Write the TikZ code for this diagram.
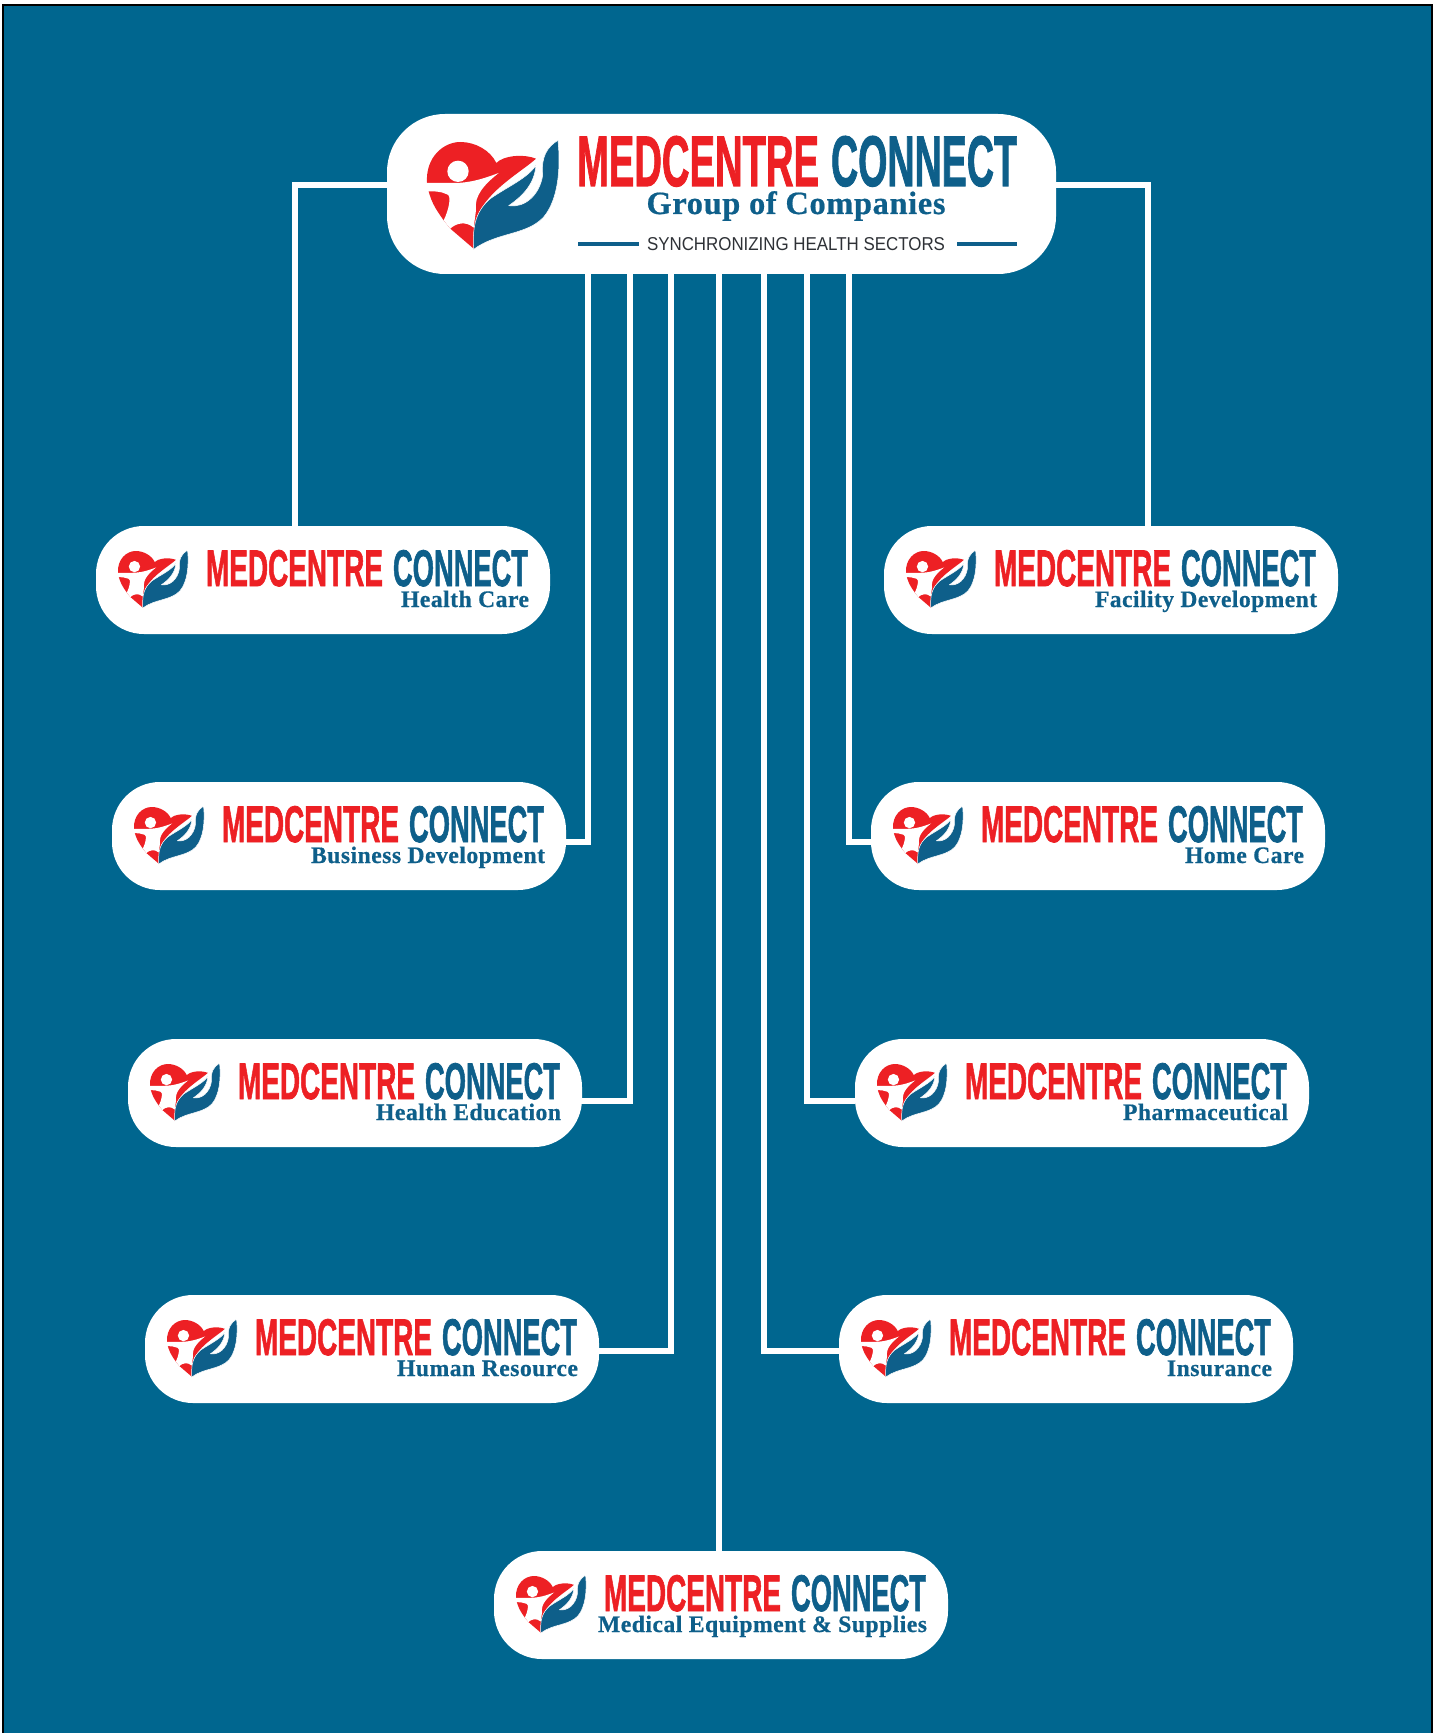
\documentclass[tikz,border=0pt]{standalone}
\usepackage{fontspec}
\setmainfont{Liberation Sans}
\newfontfamily\subfont[LetterSpace=2,BoldFeatures={FakeBold=0.6}]{Liberation Serif}
\newfontfamily\wordfont[BoldFeatures={FakeBold=1.6}]{Liberation Sans}
\newlength\pxu \setlength\pxu{0.5pt}
\definecolor{bgblue}{HTML}{00668F}
\definecolor{mcred}{HTML}{ED2024}
\definecolor{mcblue}{HTML}{0E5F8A}
\definecolor{tagrey}{HTML}{2E3136}
\tikzset{
  unitbox/.style={fill=white,rounded corners=24pt,minimum width=454\pxu,minimum height=108\pxu,inner sep=0pt},
  mainbox/.style={fill=white,rounded corners=29pt,minimum width=669\pxu,minimum height=160\pxu,inner sep=0pt},
  wordnode/.style={inner sep=0pt,outer sep=0pt,anchor=base west},
  subnode/.style={inner sep=0pt,outer sep=0pt,anchor=base east,text=mcblue},
  link/.style={draw=white,line width=2.7pt,line join=miter},
}
\newcommand{\mclogo}[3]{%
  \begin{scope}[shift={(#1,#2)},scale=#3,shift={(-20,-65)}]
    \fill[mcred] (20,188) .. controls (15,110) and (70,65) .. (120,65)
      .. controls (165,65) and (210,90) .. (228,128)
      .. controls (250,105) and (310,100) .. (347,115)
      .. controls (310,150) and (200,210) .. (170,290)
      -- (160,385) -- (90,325) -- (70,300) .. controls (45,265) and (28,240) .. (20,188) -- cycle;
    \fill[white] (14,188) -- (100,188) .. controls (150,188) and (190,175) .. (235,158)
      .. controls (195,190) and (160,225) .. (167,270)
      -- (160,322) .. controls (135,300) and (105,310) .. (90,325)
      -- (70,300) .. controls (85,270) and (95,225) .. (80,222)
      .. controls (60,212) and (40,213) .. (14,213) -- cycle;
    \fill[white] (113,153) circle[radius=32];
    \filldraw[fill=mcblue,draw=white,line width=0.25pt,line join=round] (160,387) .. controls (155,310) and (170,270) .. (210,235)
      .. controls (260,200) and (320,175) .. (347,135)
      .. controls (342,190) and (310,225) .. (265,256)
      .. controls (312,264) and (358,225) .. (367,165)
      .. controls (362,110) and (380,80) .. (413,60)
      .. controls (422,150) and (412,240) .. (370,290)
      .. controls (320,345) and (230,335) .. (160,387) -- cycle;
  \end{scope}}
\newcommand{\mcwords}[3]{% name, x, y of box corner
  \node[wordnode] (#1m) at (#2+110,#3+60) {\resizebox{177\pxu}{36\pxu}{\wordfont\bfseries\color{mcred}MEDCENTRE}};
  \node[wordnode] (#1c) at (#2+297,#3+60) {\resizebox{135\pxu}{36\pxu}{\wordfont\bfseries\color{mcblue}CONNECT}};}
\newcommand{\mcunit}[5]{% name, x, y, subtitle, width
  \node[unitbox] (#1) at (#2+227,#3+54) {};
  \mclogo{#2+22}{#3+25}{0.177}
  \mcwords{#1}{#2}{#3}
  \node[subnode] (#1s) at (#2+433,#3+81) {\resizebox{#5\pxu}{!}{\subfont\bfseries #4}};}
\begin{document}
\begin{tikzpicture}[x=0.5pt,y=-0.5pt]
  \useasboundingbox (0,0) rectangle (1440,1733);
  \fill[white] (0,0) rectangle (1440,1733);
  \filldraw[fill=bgblue,draw=black,line width=0.7pt] (3,1734) -- (3,5) -- (1432,5) -- (1432,1734);
  \node[mainbox] (main) at (721.5,194) {};
  \mcunit{hc}{96}{526}{Health Care}{128}
  \mcunit{bd}{112}{782}{Business Development}{234}
  \mcunit{he}{128}{1039}{Health Education}{185}
  \mcunit{hr}{145}{1295}{Human Resource}{181}
  \mcunit{me}{494}{1551}{Medical Equipment \& Supplies}{329}
  \mcunit{fd}{884}{526}{Facility Development}{222}
  \mcunit{ho}{871}{782}{Home Care}{119}
  \mcunit{ph}{855}{1039}{Pharmaceutical}{165}
  \mcunit{in}{839}{1295}{Insurance}{105}
  \mclogo{427}{142}{0.3333}
  \node[wordnode] (mainm) at (577,186) {\resizebox{242\pxu}{50\pxu}{\wordfont\bfseries\color{mcred}MEDCENTRE}};
  \node[wordnode] (mainc) at (831,186) {\resizebox{186\pxu}{50\pxu}{\wordfont\bfseries\color{mcblue}CONNECT}};
  \node[inner sep=0pt,anchor=base] (maing) at (796,214) {\resizebox{299\pxu}{!}{\subfont\bfseries\color{mcblue}Group of Companies}};
  \node[inner sep=0pt,anchor=base] (maint) at (796,251) {\resizebox{298\pxu}{13\pxu}{\color{tagrey}SYNCHRONIZING HEALTH SECTORS}};
  \coordinate (tl) at (578,244); \coordinate (tr) at (1017,244);
  \draw[mcblue,line width=2pt] (tl) -- ([xshift=-4pt]maint.west |- tl);
  \draw[mcblue,line width=2pt] ([xshift=6pt]maint.east |- tr) -- (tr);
  % connectors
  \coordinate (aL) at (295,185); \coordinate (aR) at (1148,185);
  \coordinate (a1) at (588,842); \coordinate (a2) at (630,1101); \coordinate (a3) at (671,1351);
  \coordinate (a4) at (719,1551);
  \coordinate (a5) at (764,1351); \coordinate (a6) at (807,1101); \coordinate (a7) at (849,842);
  \draw[link] (main.west |- aL) -| (hc.north -| aL);
  \draw[link] (main.east |- aR) -| (fd.north -| aR);
  \draw[link] (main.south -| a1) |- (bd.east |- a1);
  \draw[link] (main.south -| a2) |- (he.east |- a2);
  \draw[link] (main.south -| a3) |- (hr.east |- a3);
  \draw[link] (main.south -| a4) -- (me.north -| a4);
  \draw[link] (main.south -| a5) |- (in.west |- a5);
  \draw[link] (main.south -| a6) |- (ph.west |- a6);
  \draw[link] (main.south -| a7) |- (ho.west |- a7);
\end{tikzpicture}
\end{document}
